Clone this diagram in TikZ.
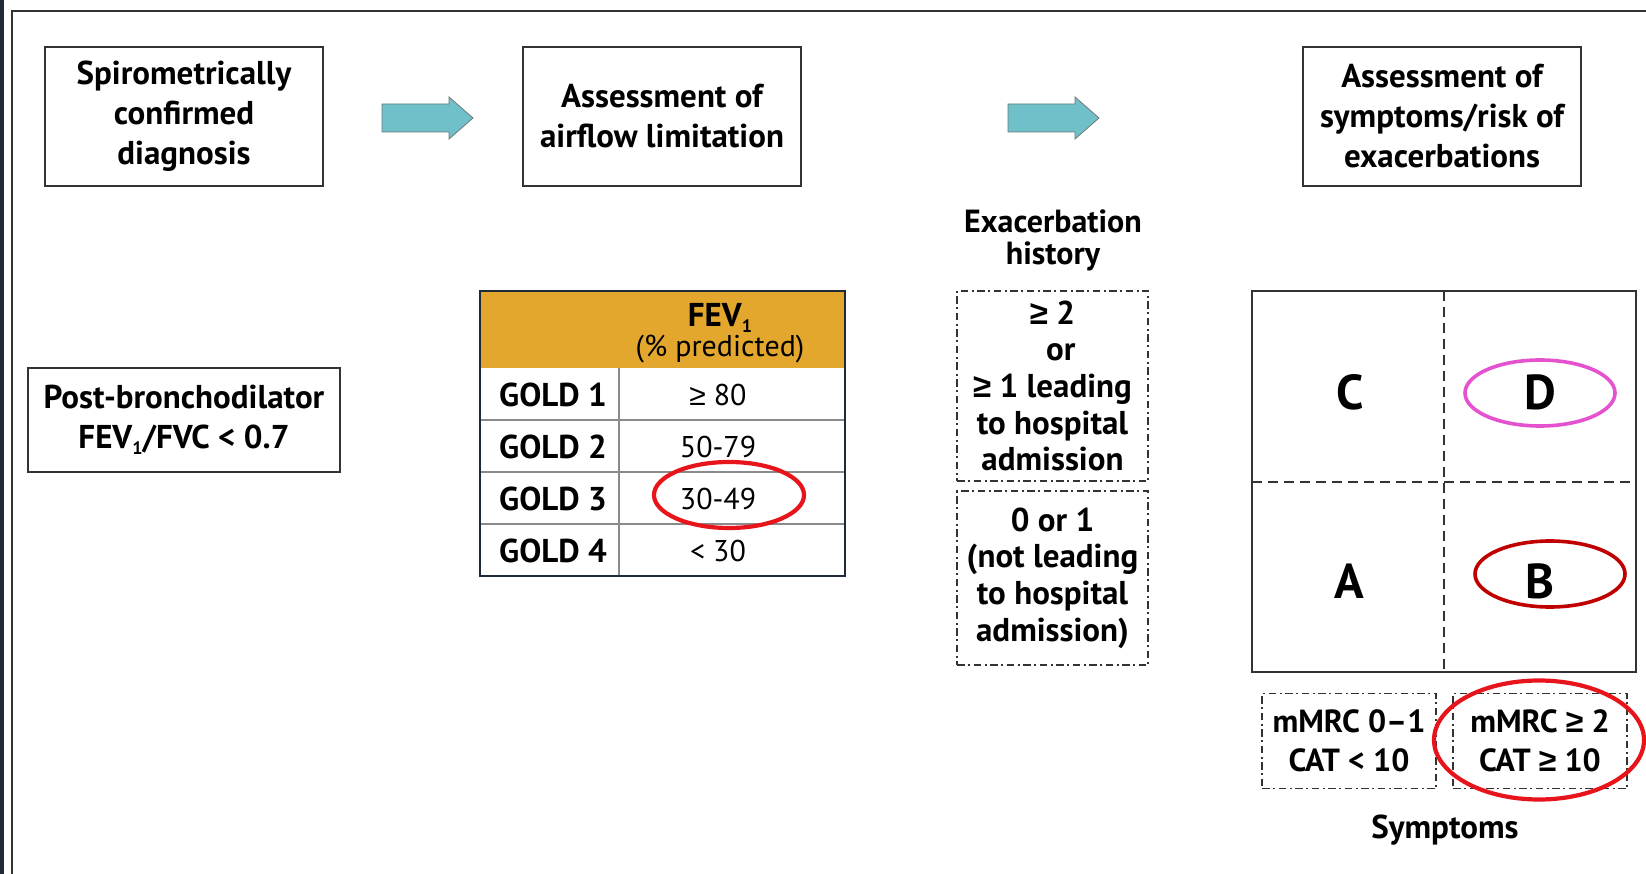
\documentclass[tikz,border=0pt]{standalone}
\usepackage{fontspec}
\setmainfont{PT Sans}
\newfontfamily\geqfont{Liberation Sans}
\usetikzlibrary{shapes.geometric}

\definecolor{inkgray}{HTML}{333333}
\definecolor{stripcol}{HTML}{1F2A36}
\definecolor{arrowfill}{HTML}{6FC0C8}
\definecolor{arrowedge}{HTML}{6A7A7C}
\definecolor{headgold}{HTML}{E3A72D}
\definecolor{rulegray}{HTML}{8A8A8A}
\definecolor{markred}{HTML}{E8141B}
\definecolor{markmagenta}{HTML}{E552CF}
\definecolor{markdark}{HTML}{C00000}

% lowered small "1" for FEV1
\newcommand\subone{\raisebox{-0.35ex}{\fontsize{18}{18}\selectfont 1}}
% greater-or-equal sign with a straight bar
\newcommand\geqsign{{\geqfont ≥}}

\begin{document}
\begin{tikzpicture}[x=1pt,y=-1pt,
  every node/.style={inner sep=0pt, align=center,
    font=\bfseries\fontsize{33}{40}\selectfont},
  stepbox/.style={draw=inkgray, line width=1.4pt, minimum width=278, minimum height=139},
  bigarrow/.style={draw=arrowedge, fill=arrowfill, line width=0.8pt, line join=miter},
  dashbox/.style={draw=inkgray, line width=1.3pt,
    dash pattern=on 7.5pt off 3.5pt on 2pt off 3.5pt},
  cell/.style={font=\bfseries\fontsize{33}{36}\selectfont},
  val/.style={font=\fontsize{30}{36}\selectfont},
  exa/.style={font=\bfseries\fontsize{33}{36.7}\selectfont},
  grade/.style={font=\bfseries\fontsize{49}{49}\selectfont},
  ring/.style={ellipse, line width=4.2pt}
]
\useasboundingbox (0,0) rectangle (1646,874);
\fill[white] (0,0) rectangle (1646,874);

% page frame
\fill[stripcol] (0,0) rectangle (4,874);
\draw[inkgray, line width=2pt] (11.5,874) -- (11.5,11.5) -- (1646,11.5);

% top row of steps
\node[stepbox] (diag) at (184,116.5) {Spirometrically\\confirmed\\diagnosis};
\node[stepbox] (airflow) at (662,116.5) {Assessment of\\airflow limitation};
\node[stepbox] (risk) at (1442,116.5) {Assessment of\\symptoms/risk of\\exacerbations};

% block arrows between the steps
\coordinate (arr1) at (382,117.5);
\coordinate (arr2) at (1008,117.5);
\foreach \a in {arr1,arr2}
  \draw[bigarrow] (\a) ++(0,-13.5) -- ++(67,0) -- ++(0,-7) -- ++(24,21)
    -- ++(-24,21) -- ++(0,-7) -- ++(-67,0) -- cycle;

% diagnostic criterion
\node[draw=inkgray, line width=1.4pt, minimum width=312, minimum height=104]
  (post) at (184,420) {Post-bronchodilator\\FEV\subone/FVC < 0.7};

% FEV1 grading table
\fill[headgold] (480,291) rectangle (845,368);
\draw[rulegray, line width=1.3pt] (480,420) -- (845,420)
  (480,472) -- (845,472) (480,524) -- (845,524) (619,368) -- (619,576);
\draw[stripcol, line width=2.6pt] (480,291) rectangle (845,576);
\node (fev) at (720,318) {FEV\subone};
\node[val] (pred) at (720,349) {(\% predicted)};
\node[cell] (g1) at (553,395) {GOLD 1};
\node[cell] (g2) at (553,447) {GOLD 2};
\node[cell] (g3) at (553,499) {GOLD 3};
\node[cell] (g4) at (553,551) {GOLD 4};
\node[val] (v1) at (718,395) {{\geqfont\mdseries ≥} 80};
\node[val] (v2) at (718,447) {50-79};
\node[val] (v3) at (718,499) {30-49};
\node[val] (v4) at (718,551) {< 30};
\node[ring, draw=markred, minimum width=150, minimum height=66] (ring3) at (729,495) {};

% exacerbation history
\node[font=\bfseries\fontsize{32}{32}\selectfont] (exhist) at (1053,240) {Exacerbation\\history};
\node[dashbox, exa, minimum width=191, minimum height=190] (exhigh) at (1052.5,386)
  {\geqsign{} 2\\\ \ or\\\geqsign{} 1 leading\\to hospital\\admission};
\node[dashbox, exa, minimum width=191, minimum height=174] (exlow) at (1052.5,578)
  {0 or 1\\(not leading\\to hospital\\admission)};

% ABCD grid
\draw[inkgray, line width=1.4pt] (1252,291) rectangle (1636,672);
\draw[inkgray, line width=1.2pt, dash pattern=on 10pt off 6pt]
  (1444,291) -- (1444,672) (1252,482) -- (1636,482);
\node[grade] (gc) at (1350,392) {C};
\node[grade] (gd) at (1540,392) {D};
\node[grade] (ga) at (1349,581) {A};
\node[grade] (gb) at (1540,581) {B};
\node[ring, draw=markmagenta, line width=3.6pt, minimum width=150, minimum height=66] (ringd) at (1540,393) {};
\node[ring, draw=markdark, line width=3.6pt, minimum width=150, minimum height=66] (ringb) at (1550,574) {};

% symptom thresholds
\node[dashbox, cell, font=\bfseries\fontsize{32}{39}\selectfont, minimum width=174, minimum height=95]
  (symlow) at (1349,741) {mMRC 0–1\\CAT < 10};
\node[dashbox, cell, font=\bfseries\fontsize{32}{39}\selectfont, minimum width=174, minimum height=95]
  (symhigh) at (1540,741) {mMRC \geqsign{} 2\\CAT \geqsign{} 10};
\node[ring, draw=markred, minimum width=210, minimum height=119] (ringsym) at (1539,740) {};
\node (symlabel) at (1445,830) {Symptoms};
\end{tikzpicture}
\end{document}
